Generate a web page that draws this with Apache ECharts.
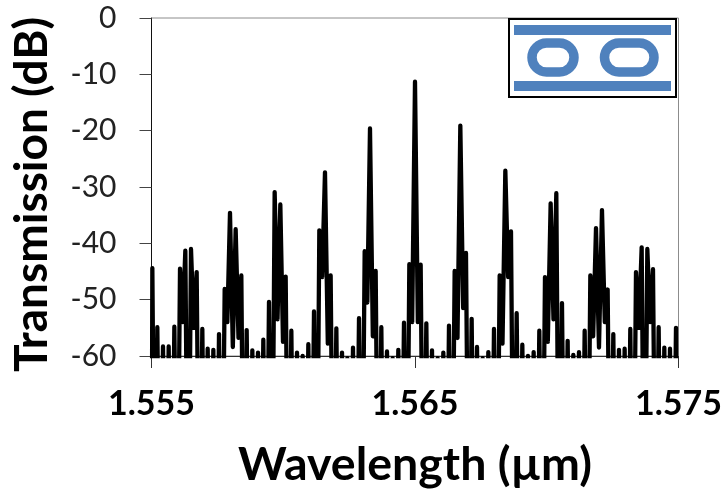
<!DOCTYPE html>
<html>
<head>
<meta charset="utf-8">
<style>
  html, body { margin: 0; padding: 0; background: #fff; }
  #chart { width: 724px; height: 491px; }
</style>
<script src="https://cdn.jsdelivr.net/npm/echarts@6/dist/echarts.min.js"></script>
</head>
<body>
<div id="chart"></div>
<script>
// peak wavelengths (um), left to right
const peakX = [
  1.555032, 1.555221, 1.555437, 1.555652, 1.555867, 1.556082, 1.556284, 1.556499,
  1.556714, 1.556929, 1.557132, 1.557347, 1.557562, 1.557777, 1.557979, 1.558194,
  1.558409, 1.558612, 1.558827, 1.559042, 1.559244, 1.559459, 1.559674, 1.559889,
  1.560092, 1.560307, 1.560522, 1.560737, 1.560952, 1.561167, 1.561369, 1.561584,
  1.561799, 1.562015, 1.562230, 1.562432, 1.562647, 1.562875, 1.563090, 1.563292,
  1.563507, 1.563722, 1.563937, 1.564152, 1.564367, 1.564582, 1.564785, 1.565000,
  1.565215, 1.565430, 1.565645, 1.565860, 1.566075, 1.566290, 1.566505, 1.566720,
  1.566935, 1.567150, 1.567353, 1.567568, 1.567783, 1.567998, 1.568213, 1.568428,
  1.568643, 1.568858, 1.569073, 1.569288, 1.569503, 1.569718, 1.569933, 1.570148,
  1.570363, 1.570578, 1.570793, 1.571008, 1.571223, 1.571439, 1.571654, 1.571869,
  1.572096, 1.572311, 1.572526, 1.572741, 1.572956, 1.573171, 1.573387, 1.573602,
  1.573817, 1.574032, 1.574247, 1.574462, 1.574677, 1.574905
]

// peak heights (dB)
const peakDb = [
  -44.4, -54.9, -58.3, -58.3, -54.8, -44.5, -41.3, -41.0, -45.1, -55.2, -58.7, -58.9,
  -56.1, -48.1, -34.6, -37.5, -45.7, -55.4, -59.0, -59.4, -57.1, -50.4, -30.9, -33.1,
  -45.9, -55.5, -59.4, -60.0, -57.9, -52.1, -37.7, -27.4, -45.7, -55.1, -59.4, -60.4,
  -58.5, -53.3, -41.4, -19.6, -44.9, -54.9, -59.2, -60.4, -58.9, -54.1, -43.7, -11.3,
  -43.8, -54.2, -59.0, -60.4, -59.4, -54.6, -44.9, -19.1, -41.7, -53.4, -58.4, -60.4,
  -59.3, -55.2, -45.7, -27.1, -37.9, -52.4, -58.0, -60.0, -59.3, -55.5, -46.0, -32.9,
  -31.1, -50.6, -57.3, -59.8, -59.3, -55.5, -45.7, -37.3, -34.1, -48.2, -56.1, -58.9,
  -58.7, -55.2, -45.1, -40.7, -41.0, -44.6, -54.9, -58.5, -58.7, -55.0
]

// the dip after each peak; the deep ones fall well under the axis
const dipDb = [
  -100, -100, -100, -100, -100, -54, -100, -55, -100, -100, -100, -100,
  -100, -54, -58.4, -56.8, -100, -100, -100, -100, -100, -100, -53.5, -57.5,
  -100, -100, -100, -100, -100, -100, -46, -57.8, -100, -100, -100, -100,
  -100, -100, -50.5, -56.5, -100, -100, -100, -100, -100, -100, -54, -54,
  -100, -100, -100, -100, -100, -100, -56.8, -51.5, -100, -100, -100, -100,
  -100, -100, -57.8, -46, -100, -100, -100, -100, -100, -100, -57.5, -53.5,
  -100, -100, -100, -100, -100, -100, -56.5, -58.5, -54, -100, -100, -100,
  -100, -100, -55, -100, -54, -100, -100, -100, -100, -100
]

const yTicks = [-60, -50, -40, -30, -20, -10, 0]

const fontName = 'Lato, "Open Sans", sans-serif'
const inkColor = '#000'
const insetBlue = '#4f81bd'

// trace: start on the axis, then peak, dip, peak, dip ...
const trace = [[1.555, -100]]
peakX.forEach((x, i) => {
  trace.push([x, peakDb[i]])
  const nextX = i < peakX.length - 1 ? peakX[i + 1] : 1.575
  trace.push([(x + nextX) / 2, dipDb[i]])
})

const chart = echarts.init(document.getElementById('chart'), null, { renderer: 'canvas' })

const option = {
  animation: false,
  backgroundColor: '#fff',
  grid: {
    left: 151.5,
    right: 45.5,
    top: 18,
    bottom: 135,
    outerBoundsMode: 'none',
    show: true,
    borderColor: '#8c8c8c',
    borderWidth: 1
  },
  xAxis: {
    type: 'value',
    min: 1.555,
    max: 1.575,
    interval: 0.01,
    name: 'Wavelength (µm)',
    nameLocation: 'middle',
    nameGap: 85,
    nameTextStyle: { fontFamily: fontName, fontWeight: 'bold', fontSize: 46.5, color: inkColor },
    axisLine: { show: true, onZero: false, lineStyle: { color: '#333', width: 1 } },
    axisTick: { show: true, length: 12, lineStyle: { color: '#333', width: 1 } },
    axisLabel: {
      fontFamily: fontName,
      fontWeight: 'bold',
      fontSize: 34,
      color: inkColor,
      margin: 31,
      formatter: v => v.toFixed(3)
    },
    splitLine: { show: false }
  },
  yAxis: {
    type: 'value',
    min: yTicks[0],
    max: yTicks[yTicks.length - 1],
    interval: 10,
    name: 'Transmission (dB)',
    nameLocation: 'middle',
    nameGap: 96,
    nameTextStyle: { fontFamily: fontName, fontWeight: 'bold', fontSize: 46, color: inkColor, padding: [0, 15, 0, 0] },
    axisLine: { show: true, onZero: false, lineStyle: { color: '#111', width: 1 } },
    axisTick: { show: true, length: 12, lineStyle: { color: '#444', width: 1 } },
    axisLabel: {
      fontFamily: fontName,
      fontSize: 30,
      color: '#222',
      margin: 35
    },
    splitLine: { show: false }
  },
  series: [
    {
      type: 'line',
      data: trace,
      showSymbol: false,
      smooth: false,
      clip: true,
      lineStyle: { color: inkColor, width: 4.3, join: 'round', cap: 'round' }
    }
  ],
  graphic: [
    // ring resonator inset, top right of the plot
    {
      type: 'rect',
      z: 10,
      shape: { x: 509, y: 19, width: 167, height: 78 },
      style: { fill: '#fff', stroke: '#000', lineWidth: 2 }
    },
    {
      type: 'rect',
      z: 11,
      shape: { x: 514, y: 25, width: 157, height: 10 },
      style: { fill: insetBlue }
    },
    {
      type: 'rect',
      z: 11,
      shape: { x: 514, y: 81, width: 157, height: 10 },
      style: { fill: insetBlue }
    },
    {
      type: 'rect',
      z: 11,
      shape: { x: 532, y: 43, width: 42, height: 29, r: 14.5 },
      style: { fill: 'none', stroke: insetBlue, lineWidth: 9.5 }
    },
    {
      type: 'rect',
      z: 11,
      shape: { x: 604.5, y: 43, width: 49.5, height: 29, r: 14.5 },
      style: { fill: 'none', stroke: insetBlue, lineWidth: 9.5 }
    }
  ]
}

chart.setOption(option)
window.addEventListener('resize', () => chart.resize())
</script>
</body>
</html>
